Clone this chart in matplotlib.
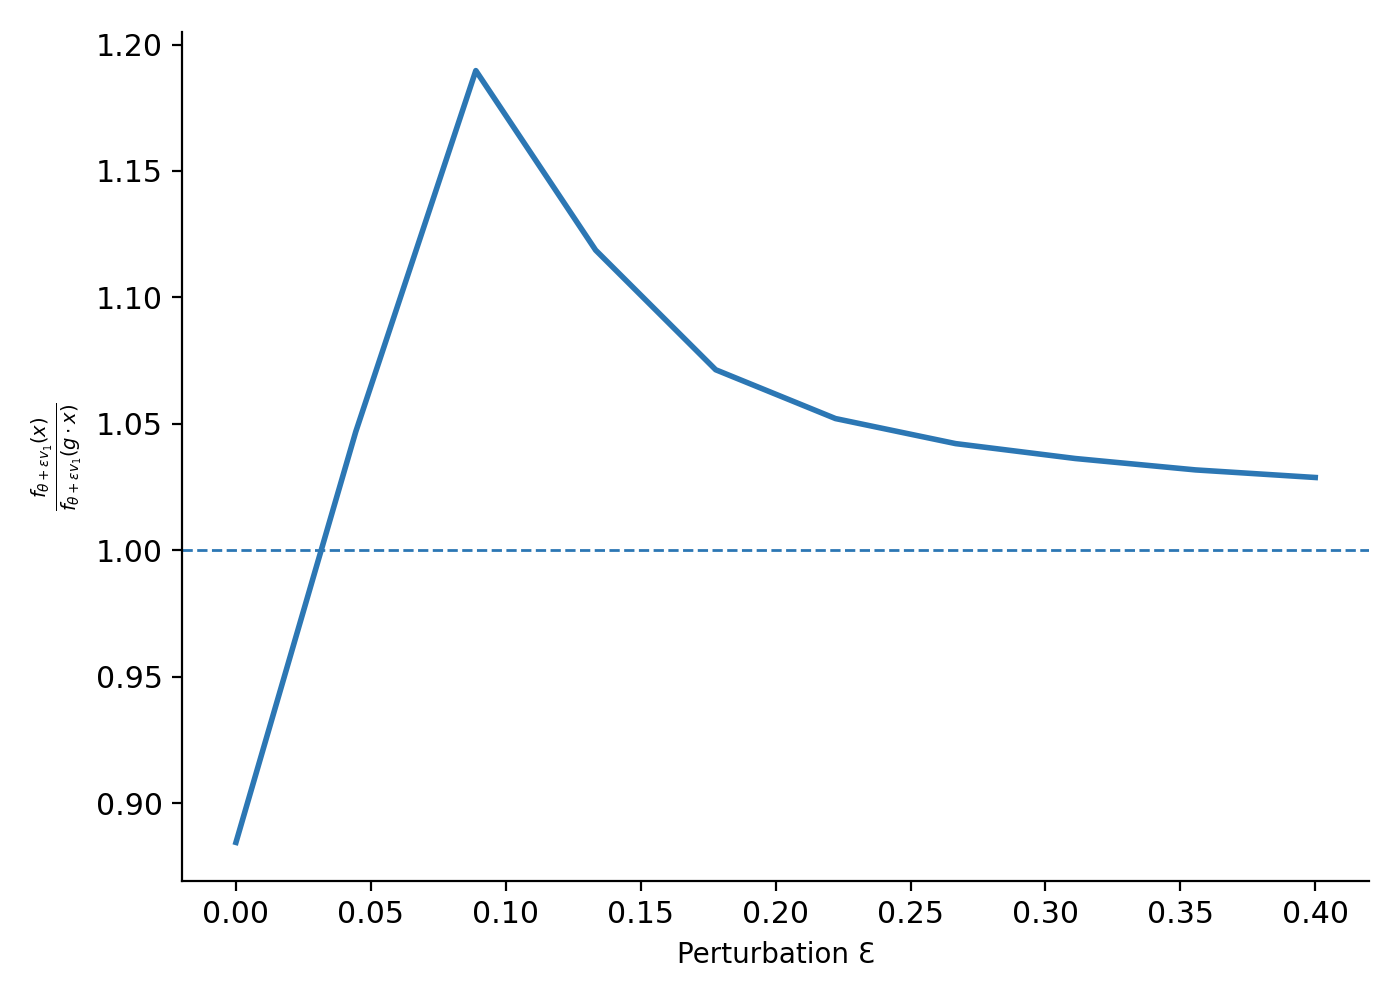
import numpy as np
import matplotlib
matplotlib.use("Agg")
import matplotlib.pyplot as plt

# perturbation values and measured ratio
eps = [0.0, 0.0444, 0.0889, 0.1333, 0.1778, 0.2222, 0.2667, 0.3111, 0.3556, 0.4]
ratio = [0.8845, 1.0469, 1.1897, 1.1187, 1.0714, 1.0521, 1.0422, 1.0363, 1.0318, 1.0288]
baseline = 1.0


def main():
    fig, ax = plt.subplots(figsize=(7, 5))
    ax.plot(eps, ratio, color="#2c77b4", linewidth=2)
    ax.axhline(baseline, color="#2c77b4", linestyle="--", linewidth=1)
    ax.set_xlabel("Perturbation Ɛ", fontsize=10)
    ax.set_ylabel(r"$\frac{f_{\theta+\epsilon v_1}(x)}{f_{\theta+\epsilon v_1}(g\cdot x)}$", fontsize=10)
    ax.tick_params(labelsize=10.8)
    ax.spines["top"].set_visible(False)
    ax.spines["right"].set_visible(False)
    fig.subplots_adjust(left=0.13, right=0.978, top=0.968, bottom=0.119)
    fig.savefig("out.png", dpi=200)


if __name__ == '__main__':
    main()
